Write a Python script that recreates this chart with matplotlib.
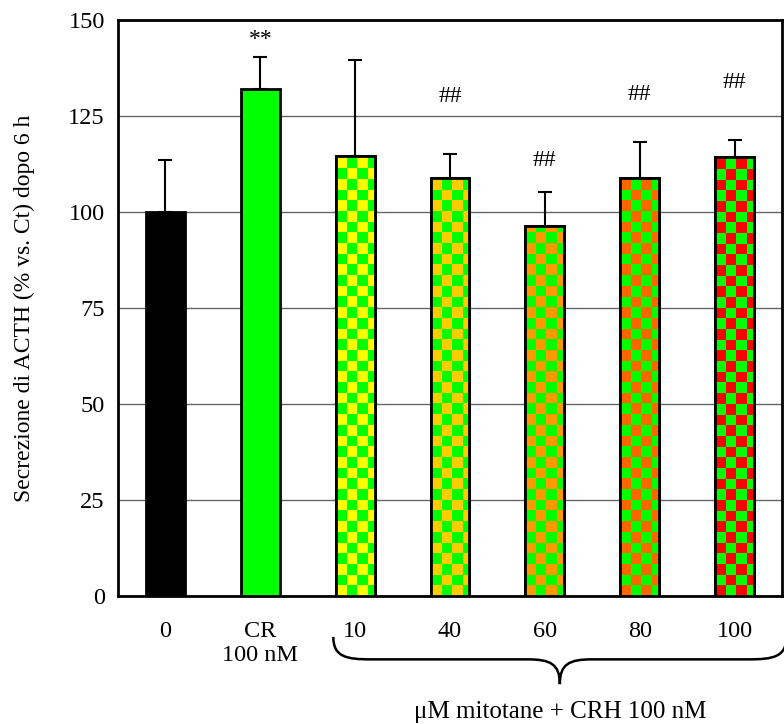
import numpy as np
import matplotlib
matplotlib.use("Agg")
import matplotlib.pyplot as plt
from matplotlib.colors import ListedColormap
from matplotlib.path import Path
from matplotlib.patches import PathPatch
import matplotlib.transforms as mtransforms

plt.rcParams['font.family'] = ['Liberation Serif', 'DejaVu Serif']

# dati
labels = ["0", "CR\n100 nM", "10", "40", "60", "80", "100"]
values = [100, 132, 114.6, 108.9, 96.4, 108.9, 114.3]
err_up = [13.5, 8.4, 25.0, 6.2, 8.8, 9.3, 4.4]
marks = ["", "**", "", "##", "##", "##", "##"]
mark_y = [0, 144.8, 0, 130, 113.5, 130.5, 133.6]
fill1 = ["black", "#00ff00", "#00ff00", "#00ff00", "#00ff00", "#00ff00", "#00ff00"]
fill2 = [None, None, "#ffff00", "#ffcc00", "#ff9900", "#ff6600", "#ff0000"]

fig = plt.figure(figsize=(7.84, 7.24), dpi=100)
ax = fig.add_axes([118/784, 128/724, 664/784, 576/724])

x = np.arange(len(values))
w = 0.41
bars = ax.bar(x, values, width=w, color=fill1, edgecolor="black", linewidth=2, zorder=3)

# scacchiera nelle barre
cx, cy = 0.113, 2.78
for b, c1, c2 in zip(bars, fill1, fill2):
    if c2 is None:
        continue
    x0 = b.get_x()
    h = b.get_height()
    nx = int(np.ceil(b.get_width() / cx))
    ny = int(np.ceil(h / cy))
    grid = np.add.outer(np.arange(ny), np.arange(nx)) % 2
    im = ax.imshow(grid, cmap=ListedColormap([c2, c1]), extent=(x0, x0 + nx*cx, 0, ny*cy),
                   origin="lower", interpolation="nearest", aspect="auto", zorder=3.5)
    im.set_clip_path(b)
    # bordo sopra l'immagine
    ax.bar(b.get_x() + b.get_width()/2, h, width=b.get_width(), fill=False,
           edgecolor="black", linewidth=2, zorder=4)

ax.errorbar(x, values, yerr=[np.zeros(len(values)), err_up], fmt="none",
            ecolor="black", elinewidth=1.5, capsize=4.7, capthick=1.5, zorder=2.5)

for xi, m, my in zip(x, marks, mark_y):
    if m:
        ax.text(xi, my, m, ha="center", va="center", fontsize=17)

ax.set_xlim(-0.5, 6.5)
ax.set_ylim(0, 150)
ax.set_yticks([0, 25, 50, 75, 100, 125, 150])
ax.set_xticks(x)
ax.set_xticklabels(labels)
ax.tick_params(axis="both", length=0, labelsize=17.5)
ax.tick_params(axis="y", pad=9.5)
ax.tick_params(axis="x", pad=18)
ax.yaxis.grid(True, color="#666666", linewidth=1)
ax.set_axisbelow(True)
for s in ax.spines.values():
    s.set_linewidth(2)

ax.set_ylabel("Secrezione di ACTH (% vs. Ct) dopo 6 h", fontsize=17, labelpad=24)

# graffa sotto i gruppi mitotane
trans = mtransforms.blended_transform_factory(ax.transData, ax.transAxes)
xl, xm = 1.77, 4.158
xr = 2 * xm - xl
y0, y1, y2 = -0.071, -0.110, -0.153
ae, at = 0.4, 0.34
verts = [(xl, y0), (xl, y1 + 0.004), (xl + 0.14, y1), (xl + ae, y1),
         (xm - at, y1),
         (xm - 0.1, y1), (xm, y1 - 0.008), (xm, y2),
         (xm, y1 - 0.008), (xm + 0.1, y1), (xm + at, y1),
         (xr - ae, y1),
         (xr - 0.14, y1), (xr, y1 + 0.004), (xr, y0)]
codes = [Path.MOVETO, Path.CURVE4, Path.CURVE4, Path.CURVE4,
         Path.LINETO,
         Path.CURVE4, Path.CURVE4, Path.CURVE4,
         Path.CURVE4, Path.CURVE4, Path.CURVE4,
         Path.LINETO,
         Path.CURVE4, Path.CURVE4, Path.CURVE4]
brace = PathPatch(Path(verts, codes), transform=trans, fill=False, linewidth=1.8,
                  edgecolor="black", clip_on=False)
ax.add_patch(brace)
ax.text(xm, -0.201, "\u03bcM mitotane + CRH 100 nM", transform=trans, ha="center",
        va="center", fontsize=18)

fig.savefig("out.png", dpi=100)
